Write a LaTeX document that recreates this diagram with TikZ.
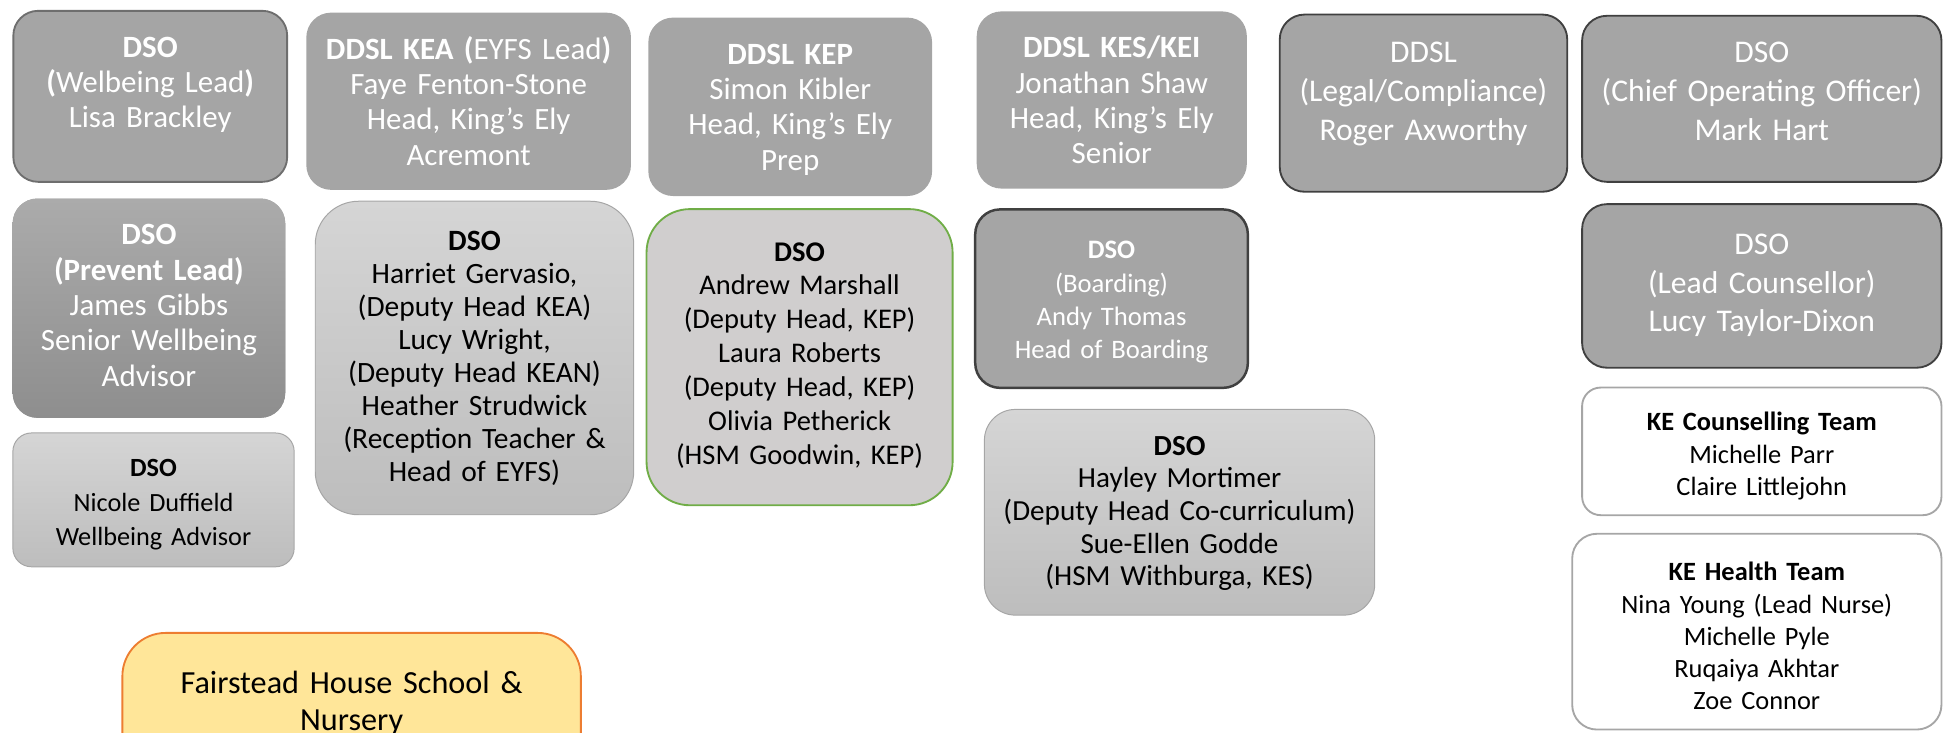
\documentclass[tikz,border=0pt]{standalone}
\usepackage{fontspec}
\setmainfont{Carlito}
\definecolor{boxgray}{HTML}{A5A5A5}
\definecolor{edgedark}{HTML}{404040}
\definecolor{edgemid}{HTML}{6E6E6E}
\definecolor{litetop}{HTML}{D5D5D5}
\definecolor{litebot}{HTML}{BDBDBD}
\definecolor{liteedge}{HTML}{A6A6A6}
\definecolor{prevtop}{HTML}{ABABAB}
\definecolor{prevbot}{HTML}{8E8E8E}
\definecolor{greenedge}{HTML}{70AD47}
\definecolor{greenfill}{HTML}{D0CECE}
\definecolor{sunfill}{HTML}{FFE699}
\definecolor{sunedge}{HTML}{ED7D31}
\begin{document}
\begin{tikzpicture}[x=1pt, y=-1pt,
    cell/.style = {anchor=north west, inner sep=0pt, align=center, rounded corners=20pt},
    size/.style n args = {3}{text width=#1pt, text height=#3pt, text depth=#2pt-#3pt},
    darkbox/.style = {cell, fill=boxgray, text=white, font=\fontsize{25}{28.5}\selectfont},
    ringbox/.style = {darkbox, draw=edgedark, line width=1.5pt, font=\fontsize{25.5}{31.5}\selectfont},
    litebox/.style = {cell, top color=litetop, bottom color=litebot, draw=liteedge, line width=0.8pt,
                      font=\fontsize{23.5}{26.5}\selectfont},
    teambox/.style = {cell, fill=white, draw=liteedge, line width=1.5pt, font=\fontsize{21.3}{26}\selectfont}]
  \clip (0,0) rectangle (1568,591);

  % top row
  \node[darkbox, draw=edgemid, line width=1.5pt, size={221}{138}{37.5}] (welbeing) at (10,8)
    {\textbf{DSO}\\\textbf{(}Welbeing Lead\textbf{)}\\Lisa Brackley};
  \node[darkbox, size={262}{143}{37.5}] (kea) at (247,10)
    {\textbf{DDSL KEA (}EYFS Lead\textbf{)}\\Faye Fenton-Stone\\Head, King’s Ely\\Acremont};
  \node[darkbox, size={229}{144}{37.5}] (kep) at (523,14)
    {\textbf{DDSL KEP}\\Simon Kibler\\Head, King’s Ely\\Prep};
  \node[darkbox, size={218}{143}{37.5}] (kes) at (788,9)
    {\textbf{DDSL KES/KEI}\\Jonathan Shaw\\Head, King’s Ely\\Senior};
  \node[ringbox, size={232}{143}{38.5}] (legal) at (1032,11)
    {DDSL\\(Legal/Compliance)\\Roger Axworthy};
  \node[ringbox, size={290}{134}{38}] (coo) at (1276,12)
    {DSO\\(Chief Operating Officer)\\Mark Hart};

  % second row
  \node[darkbox, top color=prevtop, bottom color=prevbot, size={220}{177}{37.5}] (prevent) at (10,160)
    {\textbf{DSO}\\\textbf{(Prevent Lead)}\\James Gibbs\\Senior Wellbeing\\Advisor};
  \node[litebox, rounded corners=35pt, font=\fontsize{23.8}{26.6}\selectfont, size={257}{253}{40}] (keadso) at (254,162)
    {\textbf{DSO}\\Harriet Gervasio,\\(Deputy Head KEA)\\Lucy Wright,\\(Deputy Head KEAN)\\Heather Strudwick\\(Reception Teacher \&\\Head of EYFS)};
  \node[cell, rounded corners=35pt, fill=greenfill, draw=greenedge, line width=1.5pt,
        font=\fontsize{23}{27.3}\selectfont, size={247}{239}{42}] (kepdso) at (521,168)
    {\textbf{DSO}\\Andrew Marshall\\(Deputy Head, KEP)\\Laura Roberts\\(Deputy Head, KEP)\\Olivia Petherick\\(HSM Goodwin, KEP)};
  \node[darkbox, draw=edgedark, line width=2pt, font=\fontsize{21.5}{26.7}\selectfont,
        size={220}{144}{40}] (boarding) at (786,168)
    {\textbf{DSO}\\(Boarding)\\Andy Thomas\\Head of Boarding};
  \node[ringbox, size={290}{132}{41}, font=\fontsize{25.5}{31}\selectfont] (counsellor) at (1276,164)
    {DSO\\(Lead Counsellor)\\Lucy Taylor-Dixon};

  % lower boxes
  \node[litebox, rounded corners=15pt, font=\fontsize{21.2}{28}\selectfont, size={227}{108}{35}] (nicole) at (10,349)
    {\textbf{DSO}\\Nicole Duffield\\Wellbeing Advisor};
  \node[litebox, rounded corners=25pt, font=\fontsize{23.5}{26.3}\selectfont, size={315}{166}{37}] (cocurric) at (794,330)
    {\textbf{DSO}\\Hayley Mortimer\\(Deputy Head Co-curriculum)\\Sue-Ellen Godde\\(HSM Withburga, KES)};
  \node[teambox, rounded corners=15pt, size={290}{103}{35}] (counselteam) at (1276,312)
    {\textbf{KE Counselling Team}\\Michelle Parr\\Claire Littlejohn};
  \node[teambox, size={298}{158}{38}] (healthteam) at (1268,430)
    {\textbf{KE Health Team}\\Nina Young (Lead Nurse)\\Michelle Pyle\\Ruqaiya Akhtar\\Zoe Connor};
  \node[cell, rounded corners=35pt, fill=sunfill, draw=sunedge, line width=1.5pt,
        font=\fontsize{26}{29.5}\selectfont, size={370}{130}{49}] (fairstead) at (98,510)
    {Fairstead House School \&\\Nursery};
\end{tikzpicture}
\end{document}
